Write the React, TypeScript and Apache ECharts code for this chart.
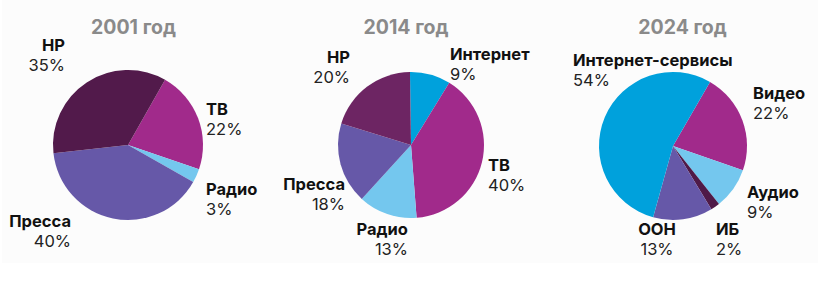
import React, { useEffect, useRef } from "react";
import * as echarts from "echarts";

const titles = ["2001 год", "2014 год", "2024 год"];

const names2001 = ["ТВ", "Радио", "Пресса", "НР"];
const values2001 = [22, 3, 40, 35];
const colors2001 = ["#a12a8b", "#74c7ee", "#6658a8", "#521a4b"];

const names2014 = ["Интернет", "ТВ", "Радио", "Пресса", "НР"];
const values2014 = [9, 40, 13, 18, 20];
const colors2014 = ["#00a1dc", "#a12a8b", "#74c7ee", "#6658a8", "#6d2563"];

const names2024 = ["Видео", "Аудио", "ИБ", "ООН", "Интернет-сервисы"];
const values2024 = [22, 9, 2, 13, 54];
const colors2024 = ["#a12a8b", "#74c7ee", "#4f1a47", "#6658a8", "#00a1dc"];

// label anchor positions (px) and alignment, per slice
const labelPos2001: [number, number, string][] = [
  [206, 119, "left"],
  [206, 199, "left"],
  [71, 231, "right"],
  [65, 55, "right"],
];
const labelPos2014: [number, number, string][] = [
  [450, 64, "left"],
  [488, 175, "left"],
  [408, 239, "right"],
  [345, 194, "right"],
  [350, 67, "right"],
];
const labelPos2024: [number, number, string][] = [
  [753, 103, "left"],
  [747, 202, "left"],
  [716, 239, "left"],
  [657, 239, "center"],
  [573, 70, "left"],
];
const titleCenters: [number, number][] = [
  [133.5, 27],
  [406, 27],
  [682.5, 27],
];

const FONT = "Inter, 'Noto Sans', sans-serif";

function makeSeries(
  names: string[],
  values: number[],
  colors: string[],
  pos: [number, number, string][],
  center: [number, number],
  radius: number,
  startAngle: number
) {
  return {
    type: "pie",
    center,
    radius,
    startAngle,
    clockwise: true,
    silent: true,
    avoidLabelOverlap: false,
    itemStyle: { borderWidth: 0 },
    labelLine: { show: false },
    label: {
      show: true,
      position: "outside",
      overflow: "none",
      edgeDistance: 0,
      bleedMargin: 0,
      formatter: "{n|{b}}\n{v|{c}%}",
      color: "#111",
      rich: {
        n: { fontFamily: FONT, fontSize: 16.5, fontWeight: "bold", color: "#111", lineHeight: 20 },
        v: { fontFamily: FONT, fontSize: 16.5, fontWeight: "normal", color: "#222", lineHeight: 20 },
      },
    },
    labelLayout: (p: any) => {
      const q = pos[p.dataIndex];
      return { x: q[0], y: q[1], align: q[2], verticalAlign: "middle" };
    },
    data: names.map((n, i) => ({
      name: n,
      value: values[i],
      itemStyle: { color: colors[i] },
      label: { align: pos[i][2], rich: { n: { align: pos[i][2] }, v: { align: pos[i][2] } } },
    })),
  };
}

export default function App() {
  const ref = useRef<HTMLDivElement>(null);
  useEffect(() => {
    if (!ref.current) return;
    const chart = echarts.init(ref.current, undefined, { renderer: "svg" });
    chart.setOption({
      animation: false,
      backgroundColor: "#ffffff",
      graphic: [
        {
          type: "rect",
          z: -10,
          silent: true,
          shape: { x: 2, y: 0, width: 816, height: 263 },
          style: { fill: "#fcfcfc" },
        },
        ...titles.map((t, i) => ({
          type: "text",
          x: titleCenters[i][0],
          y: titleCenters[i][1],
          silent: true,
          style: {
            text: t,
            fill: "#8a8a8a",
            font: `bold 19.5px ${FONT}`,
            textAlign: "center",
            textVerticalAlign: "middle",
          },
        })),
      ],
      series: [
        makeSeries(names2001, values2001, colors2001, labelPos2001, [128, 145], 75, 60.4),
        makeSeries(names2014, values2014, colors2014, labelPos2014, [411, 145], 73, 90.8),
        makeSeries(names2024, values2024, colors2024, labelPos2024, [673, 146], 74, 60),
      ],
    });
    return () => chart.dispose();
  }, []);
  return (
    <div
      ref={ref}
      style={{ position: "fixed", left: 0, top: 0, width: 823, height: 290 }}
    />
  );
}
